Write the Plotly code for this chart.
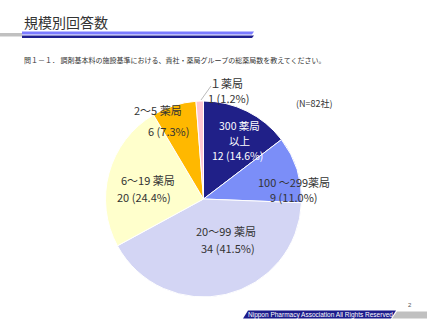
import plotly.graph_objects as go

categories = ["300 薬局以上", "100 ～299薬局", "20～99 薬局", "6～19 薬局", "2～5 薬局", "１薬局"]
counts = [12, 9, 34, 20, 6, 1]
percents = ["14.6%", "11.0%", "41.5%", "24.4%", "7.3%", "1.2%"]
colors = ["#202088", "#7b8ef8", "#d3d5f4", "#ffffcc", "#ffb800", "#ffc6d2"]

W, H = 427, 320
def px(x): return x / W
def py(y): return 1 - y / H

fig = go.Figure(go.Pie(
    labels=categories, values=counts, sort=False, direction="clockwise", rotation=0,
    marker=dict(colors=colors, line=dict(color="white", width=1)),
    textinfo="none", hoverinfo="label+value", showlegend=False,
    domain=dict(x=[px(105.5), px(301.5)], y=[py(297), py(101)]),
))

FONT = "Noto Sans CJK JP"
ann = []
def add(x, y, text, size=11, color="#333333"):
    ann.append(dict(x=px(x), y=py(y), xref="paper", yref="paper", text=text, showarrow=False,
                    font=dict(family=FONT, size=size, color=color), xanchor="center", yanchor="middle"))

add(240, 125.5, "300 薬局", size=10.5, color="white")
add(240, 140.5, "以上", size=10.5, color="white")
add(238, 155.5, f"{counts[0]} ({percents[0]})", size=10.5, color="white")
add(294, 182, "100 ～299薬局")
add(294, 197, f"{counts[1]} ({percents[1]})")
add(226, 231, "20～99 薬局")
add(228, 248, f"{counts[2]} ({percents[2]})")
add(148, 180, "6～19 薬局")
add(144, 197, f"{counts[3]} ({percents[3]})")
add(158, 110, "2～5 薬局")
add(168, 131, f"{counts[4]} ({percents[4]})")
add(226, 83, "１薬局")
add(228, 97.5, f"{counts[5]} ({percents[5]})")
add(314, 104, "(N=82社)", size=9)

# title and question
ann.append(dict(x=px(22), y=py(22), xref="paper", yref="paper", text="規模別回答数", showarrow=False,
                font=dict(family=FONT, size=14, color="#333333"), xanchor="left", yanchor="middle"))
ann.append(dict(x=px(22), y=py(60), xref="paper", yref="paper",
                text="問１－１． 調剤基本料の施設基準における、貴社・薬局グループの総薬局数を教えてください。",
                showarrow=False, font=dict(family=FONT, size=7, color="#333333"), xanchor="left", yanchor="middle"))
# footer
ann.append(dict(x=px(320), y=py(314.5), xref="paper", yref="paper",
                text="Nippon Pharmacy Association All Rights Reserved", showarrow=False,
                font=dict(family="Liberation Sans", size=6.5, color="white"), xanchor="center", yanchor="middle"))
ann.append(dict(x=px(410), y=py(305), xref="paper", yref="paper", text="2", showarrow=False,
                font=dict(family="Liberation Sans", size=6, color="#555555"), xanchor="center", yanchor="middle"))

def path(pts):
    return "M " + " L ".join(f"{px(x)},{py(y)}" for x, y in pts) + " Z"

shapes = [
    dict(type="path", xref="paper", yref="paper", path=path([(0, 33), (22, 33), (22, 36.5), (0, 36.5)]),
         fillcolor="#c0c0c0", line=dict(width=0)),
    dict(type="path", xref="paper", yref="paper", path=path([(22, 31.5), (254, 31.5), (252, 34.5), (22, 34.5)]),
         fillcolor="#7b7bff", line=dict(width=0)),
    dict(type="path", xref="paper", yref="paper", path=path([(22, 35.5), (254, 35.5), (252, 38), (22, 38)]),
         fillcolor="#1f1f8f", line=dict(width=0)),
    dict(type="path", xref="paper", yref="paper", path=path([(243, 318.5), (248, 310.5), (396, 310.5), (391, 318.5)]),
         fillcolor="#1c1c8c", line=dict(width=0)),
    dict(type="path", xref="paper", yref="paper", path=path([(392, 318.5), (397, 311.5), (427, 311.5), (427, 318.5)]),
         fillcolor="#c0c0c0", line=dict(width=0)),
    dict(type="line", xref="paper", yref="paper", x0=px(201), y0=py(100), x1=px(211), y1=py(86),
         line=dict(color="#bbbbbb", width=1)),
]

fig.update_layout(width=W, height=H, margin=dict(l=0, r=0, t=0, b=0),
                  paper_bgcolor="white", plot_bgcolor="white", annotations=ann, shapes=shapes)
fig.write_html("out.html")
